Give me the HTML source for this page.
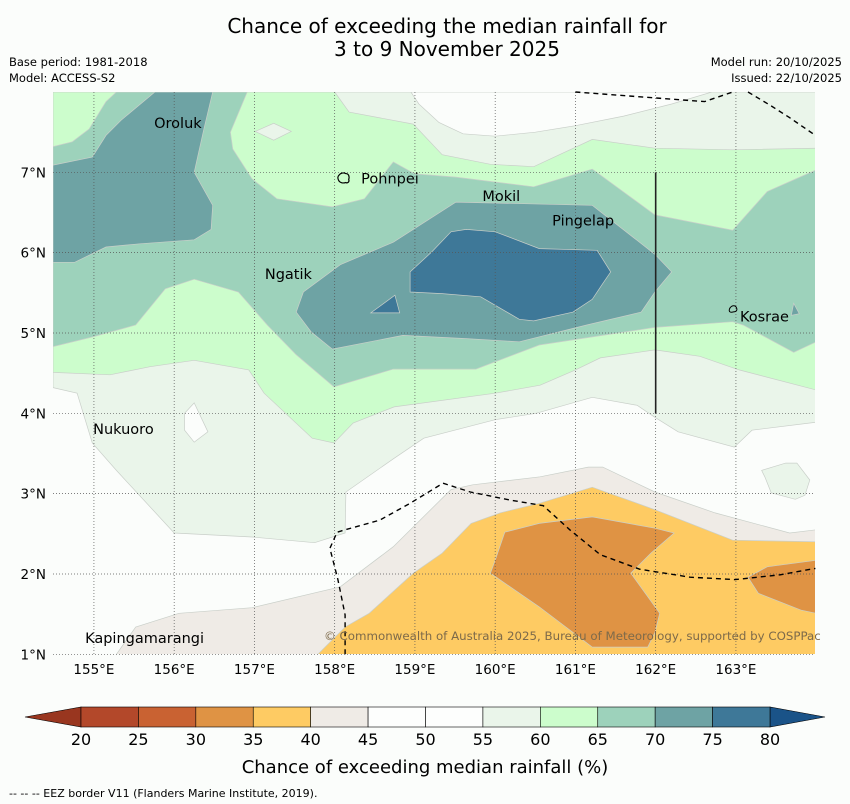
<!DOCTYPE html>
<html><head><meta charset="utf-8"><style>
html,body{margin:0;padding:0;background:#fbfdfb;}
svg{display:block;font-family:"DejaVu Sans","Liberation Sans",sans-serif;}
</style></head><body>
<svg id="chart" width="850" height="804" viewBox="0 0 850 804" xmlns="http://www.w3.org/2000/svg">
<rect x="0" y="0" width="850" height="804" fill="#fbfdfb"/>
<text x="447" y="33" font-size="20" text-anchor="middle" fill="#000">Chance of exceeding the median rainfall for</text>
<text x="447" y="56" font-size="20" text-anchor="middle" fill="#000">3 to 9 November 2025</text>
<text x="9" y="66" font-size="11.5" fill="#000">Base period: 1981-2018</text>
<text x="9" y="82" font-size="11.5" fill="#000">Model: ACCESS-S2</text>
<text x="842" y="66" font-size="11.5" text-anchor="end" fill="#000">Model run: 20/10/2025</text>
<text x="842" y="82" font-size="11.5" text-anchor="end" fill="#000">Issued: 22/10/2025</text>
<defs><clipPath id="mapclip"><rect x="53" y="92" width="762" height="562"/></clipPath></defs>
<g id="map" clip-path="url(#mapclip)"></g>
<g id="overlay"></g>
<g id="cbar"></g>
<text x="425" y="773" font-size="18" text-anchor="middle" fill="#000">Chance of exceeding median rainfall (%)</text>
<text x="9" y="797" font-size="11" fill="#000">--  --  -- EEZ border V11 (Flanders Marine Institute, 2019).</text>
</svg>
<script>
// ---- data ----
const lonTicks=[155,156,157,158,159,160,161,162,163];
const latTicks=[1,2,3,4,5,6,7];
const cbarLevels=[20,25,30,35,40,45,50,55,60,65,70,75,80];
const cbarColors=["#b3482a","#c96232","#df9344","#fecb63","#efebe6","#fdfefd","#fdfefd","#eaf5ea","#ccfdcc","#9dd2bb","#6ea3a4","#3e7898"];
const cbarLowColor="#99361f";
const cbarHighColor="#1a5388";
// contour polygons [lon,lat]
const c55=[[[154.49,8],[164,8],[164,3.89],[163.2,3.79],[162.98,3.58],[162.28,3.77],[161.99,3.95],[161.77,4.1],[161.21,4.2],[160.51,4.0],[160.0,3.92],[159.11,3.69],[158.74,3.44],[158.14,3.02],[158.13,2.51],[157.75,2.39],[156.97,2.46],[156.0,2.51],[155.28,3.29],[154.98,3.63],[154.79,4.25],[154.49,4.32]],
 [[163.32,3.29],[163.62,3.38],[163.76,3.38],[163.92,3.17],[163.86,2.98],[163.74,2.93],[163.44,3.01],[163.36,3.21]]];
const c50hole=[[[158.95,8],[159.05,7.85],[159.3,7.62],[159.6,7.48],[160.0,7.45],[160.5,7.5],[161.0,7.58],[161.6,7.7],[162.2,7.85],[162.7,8]],
 [[156.25,4.13],[156.42,3.77],[156.25,3.64],[156.13,3.79],[156.13,4.0]]];
const c60=[[[154.49,8],[158.0,8],[158.18,7.75],[158.98,7.6],[159.34,7.22],[159.94,7.1],[160.48,7.07],[161.21,7.41],[161.99,7.3],[162.96,7.28],[164,7.3],[164,4.29],[163.04,4.54],[162.55,4.71],[161.99,4.79],[161.31,4.69],[161.0,4.54],[160.56,4.35],[160.0,4.25],[158.74,4.08],[158.23,3.88],[157.99,3.63],[157.72,3.69],[157.12,4.25],[156.93,4.54],[156.25,4.66],[155.7,4.58],[155.2,4.48],[154.49,4.51]]];
const c60hole=[[[157.01,7.51],[157.24,7.61],[157.46,7.51],[157.24,7.4]]];
const c65=[[[154.49,7.32],[154.73,7.38],[154.94,7.54],[155.15,7.88],[155.28,8],[156.91,8],[156.7,7.5],[156.73,7.29],[156.97,6.92],[157.28,6.67],[157.97,6.57],[158.37,6.67],[158.73,7.13],[159.0,6.98],[159.51,6.94],[160.48,6.82],[161.21,7.04],[161.99,6.47],[162.96,6.28],[163.39,6.76],[164,7.03],[164,4.89],[163.72,4.76],[163.09,5.1],[162.96,5.14],[161.99,5.07],[160.55,4.85],[159.76,4.55],[158.73,4.55],[157.99,4.33],[157.52,4.73],[157.16,5.1],[156.8,5.51],[156.25,5.67],[155.89,5.55],[155.52,5.1],[154.98,4.95],[154.49,4.83]]];
const c70=[[[154.49,7.09],[154.98,7.19],[155.15,7.46],[155.34,7.65],[155.76,8],[156.48,8],[156.37,7.54],[156.25,7.0],[156.48,6.59],[156.46,6.29],[156.25,6.16],[155.57,6.11],[155.15,6.07],[154.76,5.88],[154.49,5.88]],
 [[157.52,5.26],[157.61,5.51],[158.07,5.85],[158.73,6.13],[159.51,6.63],[161.21,6.59],[161.99,5.98],[162.2,5.76],[161.99,5.51],[161.82,5.26],[161.14,5.1],[160.3,4.89],[159.64,4.93],[158.85,4.97],[157.97,4.8],[157.71,5.01]],
 [[163.69,5.22],[163.72,5.37],[163.79,5.24]]];
const c75=[[[158.94,5.76],[158.94,5.51],[159.34,5.49],[159.82,5.45],[160.3,5.17],[160.48,5.15],[160.97,5.26],[161.21,5.42],[161.33,5.6],[161.44,5.76],[161.27,6.03],[160.55,6.05],[160.0,6.26],[159.64,6.29],[159.45,6.26],[159.21,6.01]],
 [[158.45,5.25],[158.75,5.47],[158.81,5.25]]];
const c40=[[[155.28,1.0],[155.52,1.34],[156.06,1.51],[156.97,1.58],[158.07,1.84],[158.73,2.34],[159.45,3.05],[159.72,3.11],[160.56,3.21],[161.16,3.33],[161.34,3.33],[161.99,3.02],[162.74,2.76],[163.67,2.51],[164,2.55],[164,1.0]]];
const c35=[[[157.79,1.0],[158.13,1.34],[158.43,1.51],[158.98,2.01],[159.34,2.26],[159.7,2.63],[160.06,2.76],[160.55,2.88],[161.21,3.08],[161.99,2.8],[162.96,2.42],[164,2.4],[164,1.0]]];
const c30=[[[160.12,2.52],[160.55,2.63],[161.21,2.71],[161.99,2.57],[162.23,2.51],[161.94,2.26],[161.69,2.01],[162.05,1.51],[161.99,1.27],[161.9,1.09],[161.21,1.09],[160.55,1.59],[159.94,2.01],[160.0,2.17]],
 [[163.15,1.96],[163.39,2.09],[164,2.17],[164,1.51],[163.81,1.55],[163.28,1.76]]];
const contourLayers=[
 {poly:c55,fill:"#eaf5ea",name:"contour-55-60"},
 {poly:c50hole,fill:"#fbfdfb",name:"contour-50-55"},
 {poly:c60,fill:"#ccfdcc",name:"contour-60-65"},
 {poly:c60hole,fill:"#eaf5ea",name:"contour-55-60-patch"},
 {poly:c65,fill:"#9dd2bb",name:"contour-65-70"},
 {poly:c70,fill:"#6ea3a4",name:"contour-70-75"},
 {poly:c75,fill:"#3e7898",name:"contour-75-80"},
 {poly:c40,fill:"#efebe6",name:"contour-40-45"},
 {poly:c35,fill:"#fecb63",name:"contour-35-40"},
 {poly:c30,fill:"#df9344",name:"contour-30-35"}];
const eezLines=[
 [[161.0,8.0],[162.61,7.88],[162.96,8.0]],
 [[163.15,8.0],[163.42,7.84],[163.67,7.68],[163.99,7.46]],
 [[158.13,1.0],[158.13,1.49],[158.04,1.93],[157.94,2.32],[158.03,2.52],[158.13,2.55],[158.56,2.67],[158.94,2.88],[159.35,3.13],[159.69,3.02],[160.19,2.92],[160.6,2.85],[160.93,2.55],[161.31,2.24],[161.8,2.06],[162.43,1.96],[162.99,1.93],[163.55,1.99],[163.99,2.07]]];
const places=["Oroluk","Pohnpei","Mokil","Pingelap","Ngatik","Kosrae","Nukuoro","Kapingamarangi"];
const placeLon=[155.75,158.33,159.84,160.71,157.13,163.05,154.99,154.89];
const placeLat=[7.55,6.86,6.64,6.34,5.67,5.14,3.74,1.14];

// ---- axes ----
const lonMin=154.49, latMax=8;
const px=lon=>53+(lon-lonMin)*80.25;
const py=lat=>92+(latMax-lat)*80.33;
const NS="http://www.w3.org/2000/svg";
function mk(tag,attrs,parent){const e=document.createElementNS(NS,tag);for(const k in attrs)e.setAttribute(k,attrs[k]);parent.appendChild(e);return e;}
const map=document.getElementById('map');
const ov=document.getElementById('overlay');
for(const layer of contourLayers){
 for(const poly of layer.poly){
  const pts=poly.map(p=>px(p[0]).toFixed(1)+","+py(p[1]).toFixed(1)).join(" ");
  const e=mk('polygon',{points:pts,fill:layer.fill,stroke:"#c9cfc9","stroke-width":"0.7"},map);
  
  
 }
}
// grid
for(const lon of lonTicks){
 const e=mk('line',{x1:px(lon),x2:px(lon),y1:92,y2:654,stroke:"#555","stroke-width":"0.7","stroke-dasharray":"1,2"},ov);
 
 
 const t=mk('text',{x:px(lon),y:674,"font-size":"13.5","text-anchor":"middle",fill:"#000"},ov);
 t.textContent=lon+"°E";
 
 
}
for(const lat of latTicks){
 const e=mk('line',{x1:53,x2:815,y1:py(lat),y2:py(lat),stroke:"#555","stroke-width":"0.7","stroke-dasharray":"1,2"},ov);
 
 
 const t=mk('text',{x:46,y:py(lat)+5,"font-size":"13.5","text-anchor":"end",fill:"#000"},ov);
 t.textContent=lat+"°N";
 
 
}
// EEZ
for(const line of eezLines){
 const pts=line.map(p=>px(p[0]).toFixed(1)+","+py(p[1]).toFixed(1)).join(" ");
 const e=mk('polyline',{points:pts,fill:"none",stroke:"#000","stroke-width":"1.4","stroke-dasharray":"5,4"},ov);
 
 
}
// boundary line at 162E
const bl=mk('line',{x1:px(162),x2:px(162),y1:py(7),y2:py(4),stroke:"#222","stroke-width":"1.6"},ov);


// islands
const pohn=mk('path',{d:`M${px(158.05)},${py(6.96)} c2,-3 5,-3 7,-2 c3,0 4,3 3,6 c1,2 -1,4 -3,3 c-3,1 -6,0 -7,-2 c-1,-2 -1,-4 0,-5z`,fill:"none",stroke:"#000","stroke-width":"1.2"},ov);


const kos=mk('path',{d:`M${px(162.92)},${py(5.3)} c2,-4 6,-4 7,-1 c1,2 0,4 -3,4 c-3,1 -5,0 -4,-3z`,fill:"none",stroke:"#000","stroke-width":"1"},ov);


for(let i=0;i<places.length;i++){
 const t=mk('text',{x:px(placeLon[i]),y:py(placeLat[i]),"font-size":"14.5",fill:"#000"},ov);
 t.textContent=places[i];
 
 
}
const cp=mk('text',{x:324,y:640,"font-size":"11.8",fill:"#7d6a4a"},ov);
cp.textContent="© Commonwealth of Australia 2025, Bureau of Meteorology, supported by COSPPac";



// colorbar
const cb=document.getElementById('cbar');
const cbX0=81, cbX1=770, cbY=707, cbH=20;
const cbw=(cbX1-cbX0)/cbarColors.length;
const lt=mk('polygon',{points:`${cbX0},${cbY} ${cbX0},${cbY+cbH} 25,${cbY+cbH/2}`,fill:cbarLowColor,stroke:"#000","stroke-width":"0.6"},cb);


const rt=mk('polygon',{points:`${cbX1},${cbY} ${cbX1},${cbY+cbH} 825,${cbY+cbH/2}`,fill:cbarHighColor,stroke:"#000","stroke-width":"0.6"},cb);


for(let i=0;i<cbarColors.length;i++){
 const r=mk('rect',{x:cbX0+i*cbw,y:cbY,width:cbw,height:cbH,fill:cbarColors[i],stroke:"#000","stroke-width":"0.6"},cb);
 
 
}
for(let i=0;i<cbarLevels.length;i++){
 const t=mk('text',{x:cbX0+i*cbw,y:745,"font-size":"16","text-anchor":"middle",fill:"#000"},cb);
 t.textContent=cbarLevels[i];
 
 
}
</script>
</body></html>
